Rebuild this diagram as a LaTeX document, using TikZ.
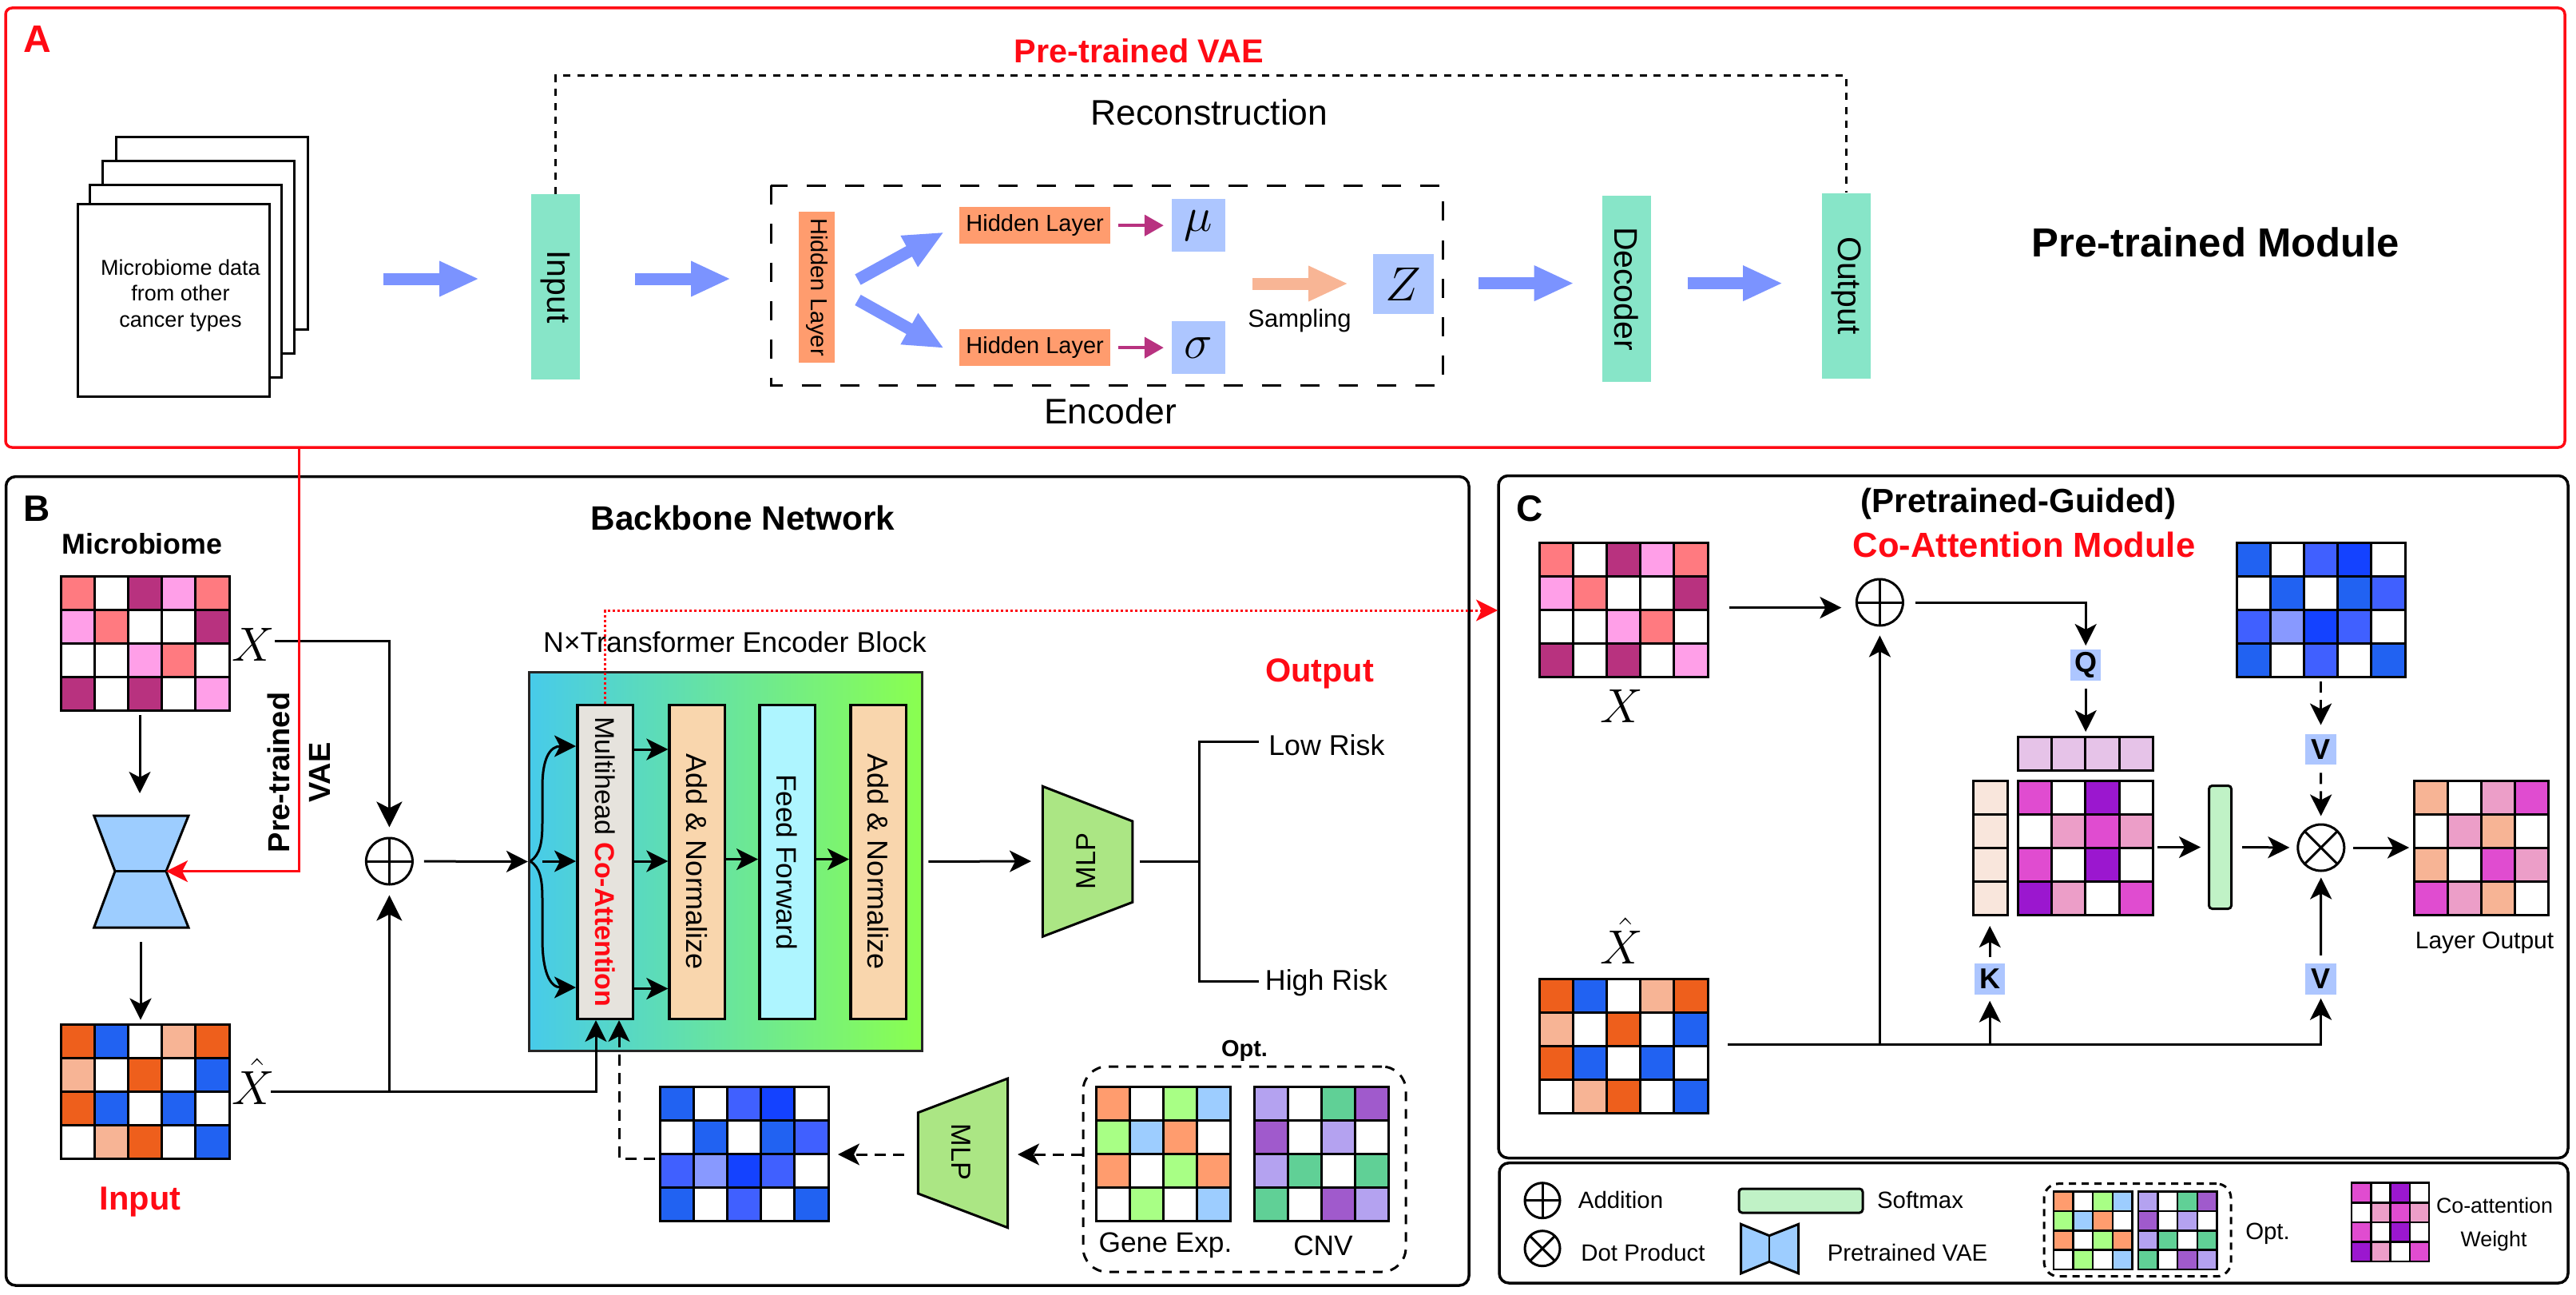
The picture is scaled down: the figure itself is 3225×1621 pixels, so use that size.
\RequirePackage{fix-cm}
\documentclass[tikz,border=0pt]{standalone}
\usepackage{fontspec}
\setmainfont{Liberation Sans}
\usetikzlibrary{arrows.meta,shadings}

\definecolor{redA}{HTML}{FF0A14}
\definecolor{vaeblue}{HTML}{9DCDFF}
\definecolor{tealbox}{HTML}{87E5C8}
\definecolor{hidbox}{HTML}{FF9C6E}
\definecolor{tagblue}{HTML}{ADC6FF}
\definecolor{magarrow}{HTML}{B83280}
\definecolor{fatblue}{HTML}{7B93FF}
\definecolor{fatorange}{HTML}{F8B595}
\definecolor{gradL}{HTML}{47CBEA}
\definecolor{gradM}{HTML}{5CE6A6}
\definecolor{gradR}{HTML}{8AFF4F}
\definecolor{multibox}{HTML}{E6E3DD}
\definecolor{addbox}{HTML}{F9D6AD}
\definecolor{feedbox}{HTML}{AEF5FF}
\definecolor{mlpgreen}{HTML}{ABE684}
\definecolor{softgreen}{HTML}{C0F2C6}
% grid colours
\definecolor{cR}{HTML}{FF7A80}
\definecolor{cM}{HTML}{B8327F}
\definecolor{cP}{HTML}{FF9FE8}
\definecolor{cO}{HTML}{EE5F1C}
\definecolor{cB}{HTML}{2162F2}
\definecolor{cL}{HTML}{F7B495}
\definecolor{cV}{HTML}{4060FF}
\definecolor{cD}{HTML}{1442FF}
\definecolor{cI}{HTML}{8899FF}
\definecolor{cG}{HTML}{A8FF85}
\definecolor{cS}{HTML}{9DCDFF}
\definecolor{cU}{HTML}{B4A2F0}
\definecolor{cT}{HTML}{60D096}
\definecolor{cZ}{HTML}{A05ACC}
\definecolor{cW}{HTML}{E04CD0}
\definecolor{cK}{HTML}{9B17CF}
\definecolor{cN}{HTML}{EC9EC8}
\definecolor{cQ}{HTML}{E6C3E8}
\definecolor{cC}{HTML}{F9E6DC}

\def\gridX{cR,white,cM,cP,cR,cP,cR,white,white,cM,white,white,cP,cR,white,cM,white,cM,white,cP}
\def\gridH{cO,cB,white,cL,cO,cL,white,cO,white,cB,cO,cB,white,cB,white,white,cL,cO,white,cB}
\def\gridB{cB,white,cV,cD,white,white,cB,white,cB,cV,cV,cI,cD,cV,white,cB,white,cV,white,cB}
\def\gridE{hidbox,white,cG,cS,cG,cS,hidbox,white,hidbox,white,cG,hidbox,white,cG,white,cS}
\def\gridN{cU,white,cT,cZ,cZ,white,cU,white,cU,cT,white,cT,cT,white,cZ,cU}
\def\gridW{cW,white,cK,white,white,cN,cW,cN,cW,white,cK,white,cK,cN,white,cW}

\newcommand{\fs}[1]{\fontsize{#1}{#1}\selectfont}
% x y cellw cellh cols list
\newcommand{\heatgrid}[6]{%
  \foreach \cellcol [count=\k from 0] in #6 {
    \pgfmathtruncatemacro{\cx}{mod(\k,#5)}
    \pgfmathtruncatemacro{\cy}{int(\k/#5)}
    \draw[gridcell, fill=\cellcol] (#1+\cx*#3,#2+\cy*#4) rectangle ++(#3,#4);
  }}

\tikzset{
  txt/.style={inner sep=0pt},
  gridcell/.style={draw=black, line width=3pt},
  panel/.style={draw=black, line width=3.5pt, rounded corners=12pt},
  arr/.style={-{Stealth[length=27pt,width=27pt,inset=7pt]}, line width=3pt},
  bigarr/.style={-{Stealth[length=32pt,width=32pt,inset=8pt]}, line width=3pt},
  plainline/.style={line width=3pt},
  dasharr/.style={arr, dash pattern=on 14pt off 9pt},
  fat/.style={line width=15pt, draw=fatblue, -{Triangle[length=50pt,width=41pt]}},
  thinfat/.style={line width=4.5pt, draw=magarrow, -{Triangle[length=24pt,width=26pt]}},
  colbox/.style={fill=tealbox, minimum width=61pt, minimum height=232pt, inner sep=0pt, font=\fs{41}},
  hidnode/.style={fill=hidbox, inner sep=0pt, font=\fs{29}},
  latbox/.style={fill=tagblue, inner sep=0pt, font=\fs{60}},
  tagbox/.style={fill=tagblue, inner sep=0pt, minimum width=38.5pt, minimum height=38.5pt, font=\fs{36}\bfseries},
  mathlbl/.style={inner sep=0pt, anchor=base, font=\fs{60}},
  blockbox/.style={draw=black, line width=3.5pt, minimum width=69.5pt, minimum height=393pt, inner sep=0pt, font=\fs{36}},
  addnode/.style={circle, draw=black, line width=3pt, minimum size=58pt, inner sep=0pt,
    path picture={\draw[line width=3pt] (path picture bounding box.north) -- (path picture bounding box.south)
      (path picture bounding box.west) -- (path picture bounding box.east);}},
  mulnode/.style={circle, draw=black, line width=3pt, minimum size=58pt, inner sep=0pt,
    path picture={\draw[line width=3pt] (path picture bounding box.north west) -- (path picture bounding box.south east)
      (path picture bounding box.south west) -- (path picture bounding box.north east);}},
  vaeshape/.style={draw=black, fill=vaeblue, line width=3pt, line join=miter},
  mlpshape/.style={draw=black, fill=mlpgreen, line width=3pt},
  softbox/.style={draw=black, fill=softgreen, line width=3pt, rounded corners=4pt, inner sep=0pt},
  optbox/.style={draw=black, line width=3pt, dash pattern=on 12pt off 10pt, rounded corners=30pt, inner sep=0pt},
}

\begin{document}
\begin{tikzpicture}[x=1pt, y=-1pt]
\useasboundingbox (0,0) rectangle (3225,1621);
\begin{scope} % Pre-trained module {{{
\draw[draw=redA, line width=3.5pt, rounded corners=8pt] (7,10) rectangle (3211,560);
\node[txt, font=\fs{48}\bfseries, text=redA] (lblA) at (46.5,49) {A};
\node[txt, font=\fs{41.4}\bfseries, text=redA] (lblVae) at (1426,64) {Pre-trained VAE};
\node[txt, font=\fs{44.5}] (lblRec) at (1514,141) {Reconstruction};
\node[txt, font=\fs{44.5}] (lblEnc) at (1390,515) {Encoder};
\node[txt, font=\fs{50.8}\bfseries] (lblMod) at (2774,303) {Pre-trained Module};
\foreach \xx/\yy in {145/172,128/202,112/232,97.5/256} {
  \draw[line width=3pt, fill=white] (\xx,\yy) rectangle ++(240,240.5);
}
\node[txt, align=center, font=\fontsize{27}{32.5}\selectfont] (docs) at (226,370) {Microbiome data\\from other\\cancer types};
\node[colbox] (inA) at (695.5,359) {\rotatebox{-90}{Input}};
\node[colbox] (decA) at (2036.5,361.5) {\rotatebox{-90}{Decoder}};
\node[colbox] (outA) at (2311.5,357.7) {\rotatebox{-90}{Output}};
\draw[line width=3pt, dash pattern=on 9pt off 8.5pt] (inA.north) |- (outA.north |- 0,95) -- (outA.north);
\draw[line width=3pt, dash pattern=on 24pt off 24pt] (965,232.5) rectangle (1806,482);
\node[hidnode, minimum width=45pt, minimum height=189pt] (hidL) at (1022.5,359.5) {\rotatebox{-90}{Hidden Layer}};
\node[hidnode, minimum width=188.5pt, minimum height=45.5pt] (hidU) at (1295.7,282.2) {Hidden Layer};
\node[hidnode, minimum width=188.5pt, minimum height=45.5pt] (hidD) at (1295.7,435.2) {Hidden Layer};
\node[latbox, minimum width=66.5pt, minimum height=66pt] (mu) at (1500.3,282.2) {$\mu$};
\node[latbox, minimum width=66.5pt, minimum height=66pt] (sigma) at (1500.3,435.2) {$\sigma$};
\node[latbox, minimum width=75.5pt, minimum height=75pt] (zbox) at (1757.2,355.5) {$Z$};
\node[txt, font=\fs{31}] (lblSamp) at (1627,401) {Sampling};
\draw[thinfat, shorten <=10pt, shorten >=10pt] (hidU) -- (mu);
\draw[thinfat, shorten <=10pt, shorten >=10pt] (hidD) -- (sigma);
\coordinate (fatAs) at (480,349);
\coordinate (fatAe) at (600,349);
\coordinate (fatBs) at (795,349);
\coordinate (fatBe) at (915,349);
\coordinate (fatCs) at (1074,350);
\coordinate (fatCe) at (1182,290.5);
\coordinate (fatDs) at (1074,375.5);
\coordinate (fatDe) at (1182,436);
\coordinate (fatEs) at (1851,354.6);
\coordinate (fatEe) at (1970.6,354.6);
\coordinate (fatFs) at (2112.5,354.6);
\coordinate (fatFe) at (2232,354.6);
\coordinate (sampS) at (1568,355);
\coordinate (sampE) at (1688,355);
\draw[fat] (fatAs) -- (fatAe);
\draw[fat] (fatBs) -- (fatBe);
\draw[fat] (fatCs) -- (fatCe);
\draw[fat] (fatDs) -- (fatDe);
\draw[fat] (fatEs) -- (fatEe);
\draw[fat] (fatFs) -- (fatFe);
\draw[fat, draw=fatorange] (sampS) -- (sampE);
\end{scope} % }}}
\begin{scope} % Backbone {{{
\draw[panel] (7.5,596.6) rectangle (1839,1609);
\node[txt, font=\fs{46}\bfseries] (lblB) at (46,636.5) {B};
\node[txt, font=\fs{42.3}\bfseries] (lblBack) at (930,648) {Backbone Network};
\node[txt, font=\fs{35.8}\bfseries] (lblMicro) at (178,681) {Microbiome};
\heatgrid{76}{721.4}{42.2}{42}{5}{\gridX}
\heatgrid{76}{1282.5}{42.2}{42}{5}{\gridH}
\node[mathlbl] (lblX) at (317.5,827) {$X$};
\node[mathlbl] (lblXh) at (317.5,1382) {$\hat{X}$};
\node[txt, font=\fs{41.6}\bfseries, text=redA] (lblInput) at (175.7,1504) {Input};
\draw[vaeshape] (117.7,1021) -- (236,1021) -- (208,1090.6) -- (236,1161) -- (117.7,1161) -- (144,1090.6) -- cycle;
\draw[plainline] (144,1090.6) -- (208,1090.6);
\coordinate (vaeTop) at (175,993);
\coordinate (vaeBot) at (176,1179);
\coordinate (gridTop) at (175,895.4);
\coordinate (gridBot) at (176,1276.6);
\draw[arr] (gridTop) -- (vaeTop);
\draw[arr] (vaeBot) -- (gridBot);
\node[txt, rotate=90, align=center, font=\fontsize{38}{50.5}\selectfont\bfseries] (lblPre) at (374,967) {Pre-trained\\VAE};
\node[addnode] (addB) at (487.4,1078) {};
\node[txt, font=\fs{35.7}] (lblN) at (920,804) {N×Transformer Encoder Block};
\node[draw=black!85, line width=3pt, left color=gradL, middle color=gradM, right color=gradR, minimum width=492.5pt, minimum height=474pt, inner sep=0pt] (gradbox) at (908.7,1078.5) {};
\node[blockbox, fill=multibox, font=\fs{34}] (multi) at (757.5,1079) {\rotatebox{-90}{Multihead \textcolor{redA}{\textbf{Co-Attention}}}};
\node[blockbox, fill=addbox] (addone) at (872.8,1079) {\rotatebox{-90}{Add \& Normalize}};
\node[blockbox, fill=feedbox, font=\fs{35.3}] (feed) at (985.5,1079) {\rotatebox{-90}{Feed Forward}};
\node[blockbox, fill=addbox] (addtwo) at (1099.5,1079) {\rotatebox{-90}{Add \& Normalize}};
\draw[bigarr, shorten >=12pt] ([yshift=4pt]lblX.east) -| (addB);
\coordinate (xhatline) at (339,1366);
\coordinate (mhA) at (746,1277);
\coordinate (mhB) at (775,1277);
\draw[arr] (xhatline) -| (mhA);
\draw[bigarr, shorten >=12pt] (addB |- xhatline) -- (addB);
\draw[arr, shorten <=13pt] (addB) -- (gradbox.west);
% brace in front of the attention block
\coordinate (fork) at (664,1078);
\coordinate (forkMid) at (679,1078);
\coordinate (levU) at (0,934);
\coordinate (levD) at (0,1236);
\draw[arr] (fork) .. controls (676,1070) and (679,1055) .. (679,1030) -- (679,985) .. controls (679,950) and (688,934) .. (multi.west |- levU);
\draw[arr] (fork) .. controls (676,1086) and (679,1100) .. (679,1125) -- (679,1175) .. controls (679,1215) and (688,1236) .. (multi.west |- levD);
\draw[arr] (forkMid) -- (multi.west |- forkMid);
\foreach \yy in {938,1078,1237.5} {
  \coordinate (lev) at (0,\yy);
  \draw[arr] (multi.east |- lev) -- (addone.west |- lev);
}
\coordinate (levF) at (0,1075.6);
\draw[arr] (addone.east |- levF) -- (feed.west |- levF);
\draw[arr] (feed.east |- levF) -- (addtwo.west |- levF);
\coordinate (mlpW) at (1291,1078);
\coordinate (mlpE) at (1426.8,1078);
\coordinate (riskFork) at (1501.3,1078);
\coordinate (lowEnd) at (1576.3,928.3);
\coordinate (highEnd) at (1576.3,1228.3);
\draw[arr, shorten <=6pt] (gradbox.east) -- (mlpW);
\draw[mlpshape] (1305.4,984.3) -- (1417.9,1028) -- (1417.9,1129.3) -- (1305.4,1172.3) -- cycle;
\node[txt, font=\fs{34.4}] (mlpUp) at (1359.8,1078) {\rotatebox{90}{MLP}};
\draw[plainline] (mlpE) -- (riskFork);
\draw[plainline] (lowEnd) -- (riskFork |- lowEnd) -- (riskFork |- highEnd) -- (highEnd);
\node[txt, font=\fs{41.5}\bfseries, text=redA] (lblOut) at (1652,843) {Output};
\node[txt, font=\fs{35.8}] (lblLow) at (1660.9,932.7) {Low Risk};
\node[txt, font=\fs{35.8}] (lblHigh) at (1660.5,1230) {High Risk};
\heatgrid{826}{1360}{42.2}{42}{5}{\gridB}
\coordinate (blueW) at (820,1450);
\draw[dasharr] (blueW) -| (mhB);
\draw[mlpshape] (1149.3,1392.7) -- (1261.6,1350) -- (1261.6,1536.7) -- (1149.3,1494) -- cycle;
\node[txt, font=\fs{34.4}] (mlpLow) at (1203,1441.7) {\rotatebox{-90}{MLP}};
\node[optbox, minimum width=404pt, minimum height=257pt] (optB) at (1558,1463.5) {};
\node[txt, font=\fs{29}\bfseries] (lblOptB) at (1558,1315.7) {Opt.};
\heatgrid{1372}{1360}{42.2}{42}{4}{\gridE}
\heatgrid{1570}{1360}{42.2}{42}{4}{\gridN}
\node[txt, font=\fs{35.3}] (lblGene) at (1459,1559) {Gene Exp.};
\node[txt, font=\fs{35.3}] (lblCnv) at (1656.5,1559) {CNV};
\coordinate (mlpLowE) at (1274,1445);
\coordinate (mlpLowW) at (1132,1445);
\coordinate (blueE) at (1049,1445);
\draw[dasharr] ([yshift=18.5pt]optB.west) -- (mlpLowE);
\draw[dasharr] (mlpLowW) -- (blueE);
\end{scope} % }}}
\begin{scope} % Co-attention {{{
\draw[panel] (1876,595.5) rectangle (3215,1449.5);
\node[txt, font=\fs{46}\bfseries] (lblC) at (1914.6,636.6) {C};
\node[txt, font=\fs{42}\bfseries] (lblGuide) at (2527,630.6) {(Pretrained-Guided)};
\node[txt, font=\fs{43.6}\bfseries, text=redA] (lblCo) at (2534,682) {Co-Attention Module};
\heatgrid{1927}{679}{42.2}{42.2}{5}{\gridX}
\heatgrid{1927}{1225}{42.2}{42.2}{5}{\gridH}
\heatgrid{2800}{679}{42.2}{42.2}{5}{\gridB}
\node[mathlbl] (lblXc) at (2030,904) {$X$};
\node[mathlbl] (lblXhc) at (2030,1206) {$\hat{X}$};
\node[addnode] (addC) at (2353.4,754) {};
\node[mulnode] (mulC) at (2905.8,1061) {};
\node[tagbox] (qbox) at (2611.2,832.5) {Q};
\node[tagbox] (kbox) at (2491.2,1225.3) {K};
\node[tagbox] (vtop) at (2905.5,938) {V};
\node[tagbox] (vbot) at (2905.5,1225.3) {V};
\heatgrid{2526}{922.4}{42.4}{41.9}{4}{{cQ,cQ,cQ,cQ}}
\heatgrid{2526}{977}{42.4}{42.2}{4}{\gridW}
\heatgrid{2470}{977}{43}{42.2}{1}{{cC,cC,cC,cC}}
\heatgrid{3022}{977}{42.2}{42.2}{4}{{cL,white,cN,cW,white,cN,cL,white,cL,white,cW,cN,cW,cN,cL,white}}
\node[softbox, minimum width=28pt, minimum height=154pt] (softC) at (2779.5,1060.5) {};
\node[txt, font=\fs{30}] (lblLayer) at (3110.5,1180) {Layer Output};
\coordinate (xC) at (2164.6,760.6);
\coordinate (xCe) at (2305.4,760.6);
\coordinate (hC) at (2163,1307.5);
\coordinate (rowTop) at (2611.2,916);
\coordinate (kcol) at (2491.2,1159);
\coordinate (blueC) at (2905.5,853.4);
\coordinate (coE) at (2701,1060.5);
\coordinate (layW) at (3016,1061);
\draw[arr] (xC) -- (xCe);
\draw[arr, shorten <=14pt, shorten >=5pt] (addC) -| (qbox);
\draw[arr, shorten <=10pt] (qbox) -- (rowTop);
\draw[arr, shorten >=5pt] (hC) -| (vbot);
\draw[arr, shorten >=11pt] (addC |- hC) -- (addC);
\draw[arr, shorten >=8pt] (kbox |- hC) -- (kbox);
\draw[arr, shorten <=7.5pt] (kbox) -- (kcol);
\draw[dasharr, shorten >=11pt] (blueC) -- (vtop);
\draw[dasharr, shorten <=10pt, shorten >=9pt] (vtop) -- (mulC);
\draw[arr, shorten <=10pt, shorten >=7pt] (vbot) -- (mulC);
\draw[arr, shorten >=9pt] (coE) -- (softC);
\draw[arr, shorten <=12pt, shorten >=9pt] (softC) -- (mulC);
\draw[arr, shorten <=10pt] (mulC) -- (layW);
\end{scope} % }}}
\begin{scope}[gridcell/.style={draw=black, line width=2.5pt}] % Legend {{{
\draw[panel] (1877,1455.7) rectangle (3215,1606);
\node[addnode, minimum size=44pt] (legAdd) at (1931,1502.7) {};
\node[mulnode, minimum size=44pt] (legMul) at (1931,1562.7) {};
\node[txt, font=\fs{29.4}] (lblAdd) at (2029,1502) {Addition};
\node[txt, font=\fs{29.4}] (lblDot) at (2057,1567.7) {Dot Product};
\node[softbox, minimum width=155pt, minimum height=30pt] (legSoft) at (2254.5,1503) {};
\node[txt, font=\fs{29.4}] (lblSoft) at (2404,1501.7) {Softmax};
\draw[vaeshape] (2179.5,1532.3) -- (2215,1546.7) -- (2251.7,1532.3) -- (2251.7,1594) -- (2215,1579.3) -- (2179.5,1594) -- cycle;
\draw[line width=2.5pt] (2215,1546.7) -- (2215,1579.3);
\node[txt, font=\fs{29.4}] (lblPt) at (2388,1568) {Pretrained VAE};
\node[optbox, dash pattern=on 9pt off 7pt, rounded corners=18pt, minimum width=234pt, minimum height=116pt] (optLeg) at (2676,1539.7) {};
\heatgrid{2571}{1491.7}{24.6}{24.3}{4}{\gridE}
\heatgrid{2677}{1491.7}{24.6}{24.3}{4}{\gridN}
\node[txt, font=\fs{29.4}] (lblOptL) at (2839,1544) {Opt.};
\heatgrid{2944}{1480.7}{24.3}{24.6}{4}{\gridW}
\node[txt, font=\fs{26.8}] (lblCow) at (3123,1509) {Co-attention};
\node[txt, font=\fs{26.8}] (lblWgt) at (3122,1554) {Weight};
\end{scope} % }}}
% red links over everything
\coordinate (redTop) at (374,560);
\coordinate (vaeMid) at (208,1090.6);
\coordinate (panelCw) at (1875,764);
\draw[arr, draw=redA] (redTop) |- (vaeMid);
\draw[arr, draw=redA, dash pattern=on 3pt off 3pt] (multi.north) |- (panelCw);
\end{tikzpicture}
\end{document}
